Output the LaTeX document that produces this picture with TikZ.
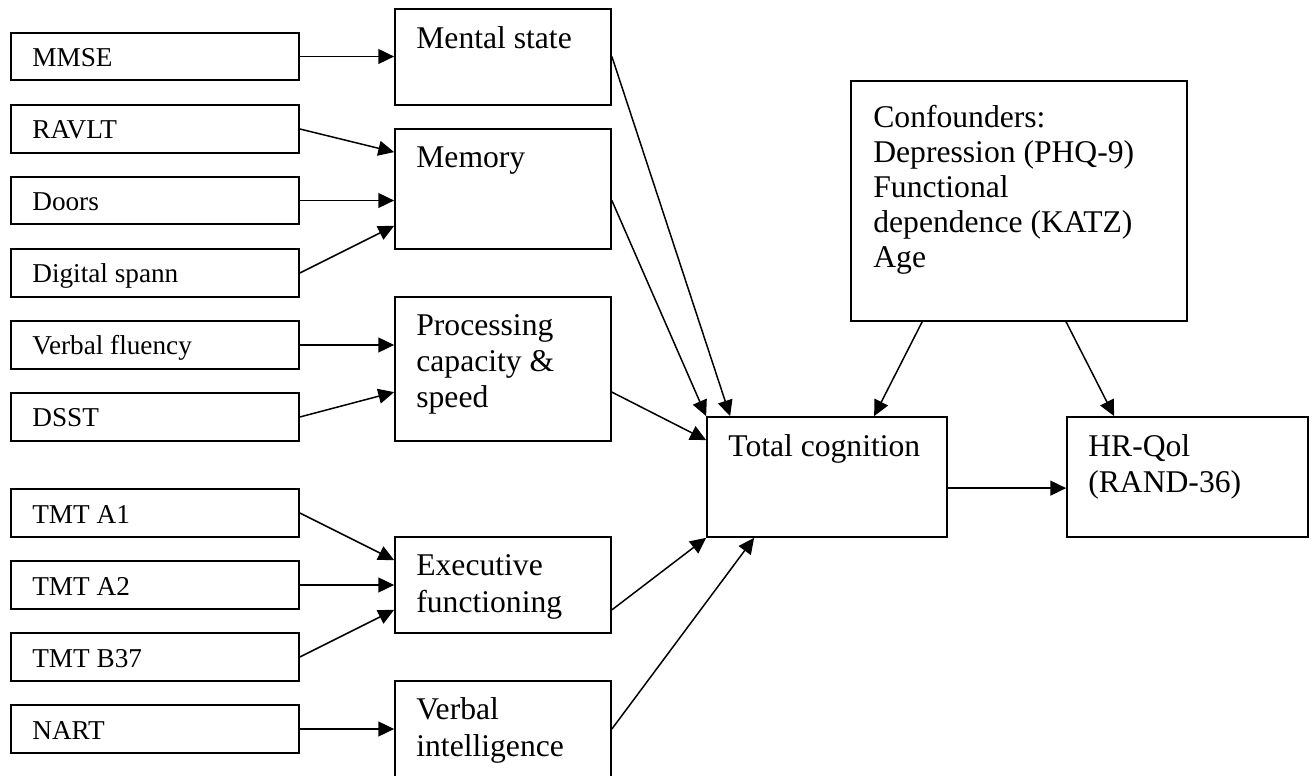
\documentclass[tikz,border=0pt]{standalone}
\usepackage{fontspec}
\setmainfont{Liberation Serif}
\usetikzlibrary{arrows.meta,calc,fit}
\begin{document}
\begin{tikzpicture}[x=0.02cm,y=-0.02cm,
  box/.style={draw,line width=1pt,inner sep=0pt,rectangle},
  smalltxt/.style={anchor=base west,inner sep=0pt,font=\fontsize{15.5}{18}\selectfont},
  bigtxt/.style={anchor=base west,inner sep=0pt,align=left,font=\fontsize{18}{20.5}\selectfont},
  arr/.style={line width=0.85pt,-{Triangle[length=9pt,width=8.5pt]}}]
\useasboundingbox (0,0) rectangle (1315,776);
% left boxes
\node[box,fit={(11,33)(299,80)}] (mmse) {};
\node[box,fit={(11,105)(299,153)}] (ravlt) {};
\node[box,fit={(11,177)(299,224)}] (doors) {};
\node[box,fit={(11,249)(299,297)}] (digit) {};
\node[box,fit={(11,321)(299,369)}] (vf) {};
\node[box,fit={(11,393)(299,441)}] (dsst) {};
\node[box,fit={(11,489)(299,537)}] (a1) {};
\node[box,fit={(11,561)(299,609)}] (a2) {};
\node[box,fit={(11,633)(299,681)}] (b37) {};
\node[box,fit={(11,705)(299,753)}] (nart) {};
\node[smalltxt] (mmse-t) at (32,67) {MMSE};
\node[smalltxt] (ravlt-t) at (32,139) {RAVLT};
\node[smalltxt] (doors-t) at (32,211) {Doors};
\node[smalltxt] (digit-t) at (32,283) {Digital spann};
\node[smalltxt] (vf-t) at (32,355) {Verbal fluency};
\node[smalltxt] (dsst-t) at (32,427) {DSST};
\node[smalltxt] (a1-t) at (32,523) {TMT A1};
\node[smalltxt] (a2-t) at (32,595) {TMT A2};
\node[smalltxt] (b37-t) at (32,667) {TMT B37};
\node[smalltxt] (nart-t) at (32,739) {NART};
% middle boxes
\node[box,fit={(395,9)(611,105)}] (mental) {};
\node[box,fit={(395,129)(611,249)}] (memory) {};
\node[box,fit={(395,297)(611,441)}] (proc) {};
\node[box,fit={(395,537)(611,633)}] (exec) {};
\node[box,fit={(395,681)(611,790)}] (verb) {};
% base anchor = last line's baseline
\node[bigtxt] (mental-t) at (416,49) {Mental state};
\node[bigtxt] (memory-t) at (416,168) {Memory};
\node[bigtxt] (proc-t) at (416,408) {Processing\\capacity \&\\speed};
\node[bigtxt] (exec-t) at (416,612) {Executive\\functioning};
\node[bigtxt] (verb-t) at (416,756) {Verbal\\intelligence};
% right boxes
\node[box,fit={(707,417)(947,537)}] (total) {};
\node[box,fit={(1067,417)(1308,537)}] (hrq) {};
\node[box,fit={(851,81)(1187,321)}] (conf) {};
\node[bigtxt] (total-t) at (728,457) {Total cognition};
\node[bigtxt] (hrq-t) at (1088,493) {HR-Qol\\(RAND-36)};
\node[bigtxt,font=\fontsize{18}{20}\selectfont] (conf-t) at (873,268) {Confounders:\\Depression (PHQ-9)\\Functional\\dependence (KATZ)\\Age};
% connectors
\draw[arr] (mmse.east) -- (mmse.east -| mental.west);
\draw[arr] (ravlt.east) -- ($(memory.north west)+(0,24)$);
\draw[arr] (doors.east) -- (doors.east -| memory.west);
\draw[arr] (digit.east) -- ($(memory.south west)+(0,-24)$);
\draw[arr] (vf.east) -- (vf.east -| proc.west);
\draw[arr] (dsst.east) -- ($(proc.north west)+(0,96)$);
\draw[arr] (a1.east) -- ($(exec.north west)+(0,24)$);
\draw[arr] (a2.east) -- (a2.east -| exec.west);
\draw[arr] (b37.east) -- ($(exec.south west)+(0,-24)$);
\draw[arr] (nart.east) -- (nart.east -| verb.west);
\draw[arr] (mental.east |- mmse.east) -- ($(total.north west)+(24,0)$);
\draw[arr] (doors.east -| memory.east) -- (total.north west);
\draw[arr] ($(proc.north east)+(0,96)$) -- ($(total.north west)+(0,24)$);
\draw[arr] ($(exec.south east)+(0,-24)$) -- (total.south west);
\draw[arr] (nart.east -| verb.east) -- ($(total.south west)+(48,0)$);
\draw[arr] ($(conf.south west)+(72,0)$) -- ($(total.north west)+(168,0)$);
\draw[arr] ($(conf.south west)+(216,0)$) -- ($(hrq.north west)+(48,0)$);
\draw[arr] ($(total.north east)+(0,72)$) -- ($(hrq.north west)+(0,72)$);
\end{tikzpicture}
\end{document}
